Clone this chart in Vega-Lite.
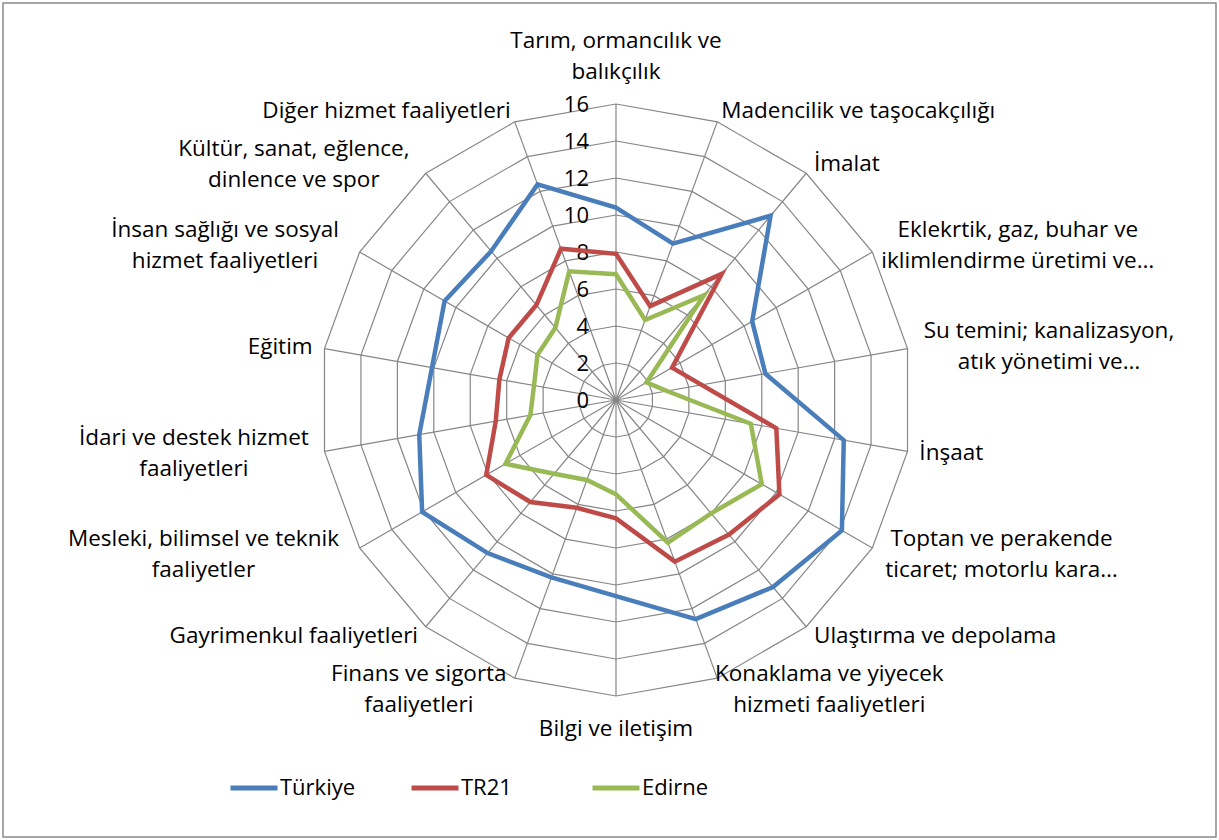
{
  "$schema": "https://vega.github.io/schema/vega-lite/v6.json",
  "width": 1219,
  "height": 840,
  "autosize": {"type": "fit", "contains": "padding"},
  "padding": 3,
  "background": "white",
  "config": {
    "view": {"stroke": "#898989", "strokeWidth": 1.5},
    "font": "Open Sans"
  },
  "datasets": {
    "sectors": [
      {"i": 0, "label": "Tarım, ormancılık ve\nbalıkçılık", "Türkiye": 10.4, "TR21": 7.9, "Edirne": 6.8},
      {"i": 1, "label": "Madencilik ve taşocakçılığı", "Türkiye": 9.0, "TR21": 5.4, "Edirne": 4.6},
      {"i": 2, "label": "İmalat", "Türkiye": 13.0, "TR21": 8.9, "Edirne": 7.4},
      {"i": 3, "label": "Eklekrtik, gaz, buhar ve\niklimlendirme üretimi ve…", "Türkiye": 8.5, "TR21": 3.5, "Edirne": 1.9},
      {"i": 4, "label": "Su temini; kanalizasyon,\natık yönetimi ve…", "Türkiye": 8.2, "TR21": 4.7, "Edirne": 2.8},
      {"i": 5, "label": "İnşaat", "Türkiye": 12.5, "TR21": 8.8, "Edirne": 7.4},
      {"i": 6, "label": "Toptan ve perakende\nticaret; motorlu kara…", "Türkiye": 14.1, "TR21": 10.2, "Edirne": 9.1},
      {"i": 7, "label": "Ulaştırma ve depolama", "Türkiye": 13.2, "TR21": 9.5, "Edirne": 8.0},
      {"i": 8, "label": "Konaklama ve yiyecek\nhizmeti faaliyetleri", "Türkiye": 12.6, "TR21": 9.3, "Edirne": 8.2},
      {"i": 9, "label": "Bilgi ve iletişim", "Türkiye": 10.6, "TR21": 6.4, "Edirne": 5.1},
      {"i": 10, "label": "Finans ve sigorta\nfaaliyetleri", "Türkiye": 10.2, "TR21": 6.2, "Edirne": 4.6},
      {"i": 11, "label": "Gayrimenkul faaliyetleri", "Türkiye": 10.8, "TR21": 7.2, "Edirne": 5.2},
      {"i": 12, "label": "Mesleki, bilimsel ve teknik\nfaaliyetler", "Türkiye": 12.1, "TR21": 8.1, "Edirne": 6.9},
      {"i": 13, "label": "İdari ve destek hizmet\nfaaliyetleri", "Türkiye": 10.8, "TR21": 6.6, "Edirne": 4.7},
      {"i": 14, "label": "Eğitim", "Türkiye": 10.1, "TR21": 6.4, "Edirne": 4.5},
      {"i": 15, "label": "İnsan sağlığı ve sosyal\nhizmet faaliyetleri", "Türkiye": 10.7, "TR21": 6.7, "Edirne": 4.9},
      {"i": 16, "label": "Kültür, sanat, eğlence,\ndinlence ve spor", "Türkiye": 10.5, "TR21": 6.7, "Edirne": 5.1},
      {"i": 17, "label": "Diğer hizmet faaliyetleri", "Türkiye": 12.4, "TR21": 8.7, "Edirne": 7.4}
    ],
    "rings": [
      {"level": 0, "i": [0,1,2,3,4,5,6,7,8,9,10,11,12,13,14,15,16,17]},
      {"level": 2, "i": [0,1,2,3,4,5,6,7,8,9,10,11,12,13,14,15,16,17]},
      {"level": 4, "i": [0,1,2,3,4,5,6,7,8,9,10,11,12,13,14,15,16,17]},
      {"level": 6, "i": [0,1,2,3,4,5,6,7,8,9,10,11,12,13,14,15,16,17]},
      {"level": 8, "i": [0,1,2,3,4,5,6,7,8,9,10,11,12,13,14,15,16,17]},
      {"level": 10, "i": [0,1,2,3,4,5,6,7,8,9,10,11,12,13,14,15,16,17]},
      {"level": 12, "i": [0,1,2,3,4,5,6,7,8,9,10,11,12,13,14,15,16,17]},
      {"level": 14, "i": [0,1,2,3,4,5,6,7,8,9,10,11,12,13,14,15,16,17]},
      {"level": 16, "i": [0,1,2,3,4,5,6,7,8,9,10,11,12,13,14,15,16,17]}
    ]
  },
  "encoding": {
    "x": {"field": "x", "type": "quantitative", "scale": {"domain": [-33.1351, 32.4324], "nice": false, "zero": false}, "axis": null},
    "y": {"field": "y", "type": "quantitative", "scale": {"domain": [-23.6216, 21.4595], "nice": false, "zero": false}, "axis": null}
  },
  "layer": [
    {
      "data": {"name": "rings"},
      "transform": [
        {"flatten": ["i"]},
        {"filter": "datum.level > 0"},
        {"calculate": "datum.level * sin(datum.i * PI / 9)", "as": "x"},
        {"calculate": "datum.level * cos(datum.i * PI / 9)", "as": "y"}
      ],
      "mark": {"type": "line", "interpolate": "linear-closed", "stroke": "#868686", "strokeWidth": 1.2},
      "encoding": {
        "detail": {"field": "level", "type": "nominal"},
        "order": {"field": "i", "type": "quantitative"}
      }
    },
    {
      "data": {"name": "rings"},
      "transform": [
        {"flatten": ["i"]},
        {"filter": "datum.level == 16"},
        {"calculate": "datum.level * sin(datum.i * PI / 9)", "as": "x"},
        {"calculate": "datum.level * cos(datum.i * PI / 9)", "as": "y"}
      ],
      "mark": {"type": "rule", "stroke": "#868686", "strokeWidth": 1.2},
      "encoding": {
        "x": {"datum": 0, "type": "quantitative"},
        "y": {"datum": 0, "type": "quantitative"},
        "x2": {"field": "x"},
        "y2": {"field": "y"}
      }
    },
    {
      "data": {"name": "rings"},
      "transform": [
        {"flatten": ["i"]},
        {"filter": "datum.i == 0"},
        {"calculate": "0", "as": "x"},
        {"calculate": "datum.level", "as": "y"}
      ],
      "mark": {"type": "text", "align": "right", "baseline": "middle", "dx": -27, "dy": 1, "fontSize": 22, "font": "Open Sans", "color": "#000000"},
      "encoding": {
        "text": {"field": "level", "type": "quantitative"}
      }
    },
    {
      "data": {"name": "sectors"},
      "transform": [
        {"fold": ["Türkiye", "TR21", "Edirne"], "as": ["series", "v"]},
        {"calculate": "datum.v * sin(datum.i * PI / 9)", "as": "x"},
        {"calculate": "datum.v * cos(datum.i * PI / 9)", "as": "y"}
      ],
      "mark": {"type": "line", "interpolate": "linear-closed", "strokeWidth": 4.5},
      "encoding": {
        "color": {
          "field": "series",
          "type": "nominal",
          "scale": {"domain": ["Türkiye", "TR21", "Edirne"], "range": ["#4A7EBB", "#BE4B48", "#98B954"]},
          "legend": {
            "title": null,
            "orient": "none",
            "legendX": 225,
            "legendY": 759,
            "direction": "horizontal",
            "symbolType": "stroke",
            "symbolSize": 2209,
            "symbolStrokeWidth": 5,
            "labelFontSize": 22,
            "labelFont": "Open Sans",
            "labelColor": "#000000",
            "labelOffset": 0,
            "columnPadding": 45,
            "gridAlign": "all",
            "padding": 0
          }
        },
        "order": {"field": "i", "type": "quantitative"}
      }
    },
    {
      "data": {"name": "sectors"},
      "transform": [
        {"calculate": "split(datum.label, '\\n')", "as": "parts"},
        {"calculate": "length(datum.parts)", "as": "nl"},
        {"filter": "datum.nl == 1 && datum.i > 0 && datum.i < 9"},
        {"calculate": "16.65 * sin(datum.i * PI / 9)", "as": "x"},
        {"calculate": "16.65 * cos(datum.i * PI / 9)", "as": "y"}
      ],
      "mark": {"type": "text", "align": "left", "baseline": "middle", "fontSize": 22.5, "font": "Open Sans", "color": "#000000"},
      "encoding": {
        "text": {"field": "label", "type": "nominal"}
      }
    },
    {
      "data": {"name": "sectors"},
      "transform": [
        {"calculate": "split(datum.label, '\\n')", "as": "parts"},
        {"calculate": "length(datum.parts)", "as": "nl"},
        {"filter": "datum.nl == 1 && datum.i > 9"},
        {"calculate": "16.65 * sin(datum.i * PI / 9)", "as": "x"},
        {"calculate": "16.65 * cos(datum.i * PI / 9)", "as": "y"}
      ],
      "mark": {"type": "text", "align": "right", "baseline": "middle", "fontSize": 22.5, "font": "Open Sans", "color": "#000000"},
      "encoding": {
        "text": {"field": "label", "type": "nominal"}
      }
    },
    {
      "data": {"name": "sectors"},
      "transform": [
        {"calculate": "split(datum.label, '\\n')", "as": "parts"},
        {"calculate": "length(datum.parts)", "as": "nl"},
        {"filter": "datum.nl > 1 || datum.i == 0 || datum.i == 9"},
        {"calculate": "max(length(datum.parts[0]), length(datum.parts[1] || ''))", "as": "ml"},
        {"calculate": "datum.i == 0 || datum.i == 9 ? 0 : (datum.i < 9 ? 1 : -1)", "as": "side"},
        {"calculate": "datum.i == 0 ? (datum.nl * 15.5 + 4) : (datum.i == 9 ? -(datum.nl * 15.5 + 5) : 0)", "as": "vshift"},
        {"calculate": "16.65 * sin(datum.i * PI / 9) + datum.side * datum.ml * 10.8 / 2 / 18.5", "as": "x"},
        {"calculate": "16.65 * cos(datum.i * PI / 9) + (datum.vshift + (datum.nl - 1) * 15.5) / 18.5", "as": "y"}
      ],
      "mark": {"type": "text", "align": "center", "baseline": "middle", "lineBreak": "\n", "lineHeight": 31, "fontSize": 22.5, "font": "Open Sans", "color": "#000000"},
      "encoding": {
        "text": {"field": "label", "type": "nominal"}
      }
    }
  ]
}
